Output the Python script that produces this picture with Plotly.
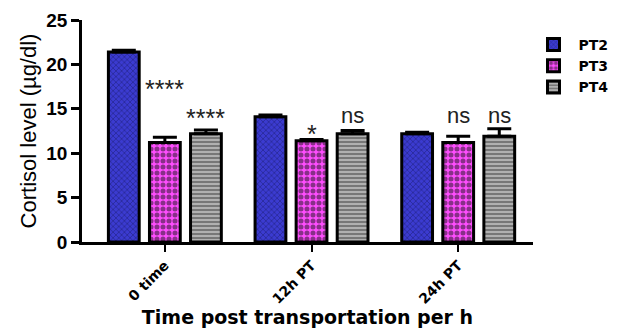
import plotly.graph_objects as go

categories = ["0 time", "12h PT", "24h PT"]
series_names = ["PT2", "PT3", "PT4"]
pt2_values = [21.4, 14.1, 12.2]
pt3_values = [11.2, 11.4, 11.2]
pt4_values = [12.2, 12.2, 11.9]
pt2_err = [0.2, 0.2, 0.15]
pt3_err = [0.6, 0.15, 0.7]
pt4_err = [0.4, 0.35, 0.85]
y_ticks = [0, 5, 10, 15, 20, 25]

# significance labels: (category index, series index, text, y)
sig_labels = [
    (0, 1, "****", 17.2),
    (0, 2, "****", 14.0),
    (1, 1, "*", 12.2),
    (1, 2, "ns", 14.2),
    (2, 1, "ns", 14.2),
    (2, 2, "ns", 14.2),
]

FONT = "Liberation Sans, Arial, sans-serif"
WIDE = "DejaVu Sans, Verdana, sans-serif"

styles = [
    dict(bg="#3b3bd0", fg="#14145a", shape="x", size=4, solidity=0.35),
    dict(bg="#ff4dff", fg="#111111", shape=".", size=6, solidity=0.55),
    dict(bg="#b0b0b0", fg="#202020", shape="-", size=4, solidity=0.4),
]

values = [pt2_values, pt3_values, pt4_values]
errs = [pt2_err, pt3_err, pt4_err]

fig = go.Figure()
xs = list(range(len(categories)))
for name, vals, err, st in zip(series_names, values, errs, styles):
    fig.add_trace(go.Bar(
        name=name, x=xs, y=vals,
        marker=dict(
            color=st["bg"],
            line=dict(color="black", width=3),
            pattern=dict(shape=st["shape"], fgcolor=st["fg"], bgcolor=st["bg"],
                         size=st["size"], solidity=st["solidity"], fillmode="overlay"),
        ),
        error_y=dict(type="data", array=err, arrayminus=[0] * len(err), symmetric=False,
                     color="black", thickness=3, width=12),
    ))

bargap = 0.16
slot = (1 - bargap) / 3
for ci, si, txt, yv in sig_labels:
    xpos = ci + (si - 1) * slot
    fig.add_annotation(x=xpos, y=yv, text=txt, showarrow=False,
                       font=dict(family=FONT, size=25 if txt != "ns" else 22, color="#222"),
                       xref="x", yref="y")

fig.update_layout(
    width=625, height=328,
    margin=dict(l=82, r=90, t=20, b=86),
    paper_bgcolor="white", plot_bgcolor="white",
    barmode="group", bargap=bargap, bargroupgap=0.25,
    font=dict(family=FONT, color="black"),
    legend=dict(x=0.99, y=0.96, xanchor="left", yanchor="top",
                font=dict(family=WIDE, size=14, color="black", weight="bold"),
                tracegroupgap=2, itemwidth=40, bgcolor="rgba(0,0,0,0)"),
    xaxis=dict(
        range=[-0.565, 2.51], automargin=False,
        tickmode="array", tickvals=xs, ticktext=categories,
        tickangle=-45, ticks="outside", ticklen=7, tickwidth=2, tickcolor="black",
        showline=True, linecolor="black", linewidth=2.5,
        tickfont=dict(family=WIDE, size=14, weight="bold", color="black"),
        title=dict(text="Time post transportation per h",
                   font=dict(family=WIDE, size=19, weight="bold", color="black"),
                   standoff=0),
        showgrid=False, zeroline=False,
    ),
    yaxis=dict(
        range=[0, 25], automargin=False,
        tickmode="array", tickvals=y_ticks,
        ticks="outside", ticklen=8, tickwidth=2.5, tickcolor="black",
        showline=True, linecolor="black", linewidth=2.5,
        tickfont=dict(family=FONT, size=19, weight="bold", color="black"),
        title=dict(text="Cortisol level (µg/dl)",
                   font=dict(family=FONT, size=22, color="black"),
                   standoff=4),
        showgrid=False, zeroline=False,
    ),
)

fig.write_html("out.html")
